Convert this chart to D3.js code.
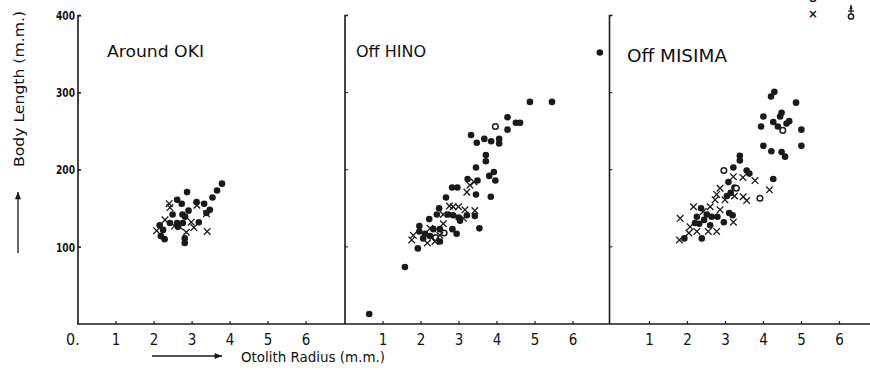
<!DOCTYPE html>
<html>
<head>
<meta charset="utf-8">
<script src="https://cdn.jsdelivr.net/npm/d3@7"></script>
<style>
  body { margin: 0; background: #fff; }
  svg { display: block; }
  text { fill: #111; }
</style>
</head>
<body>
<svg id="chart" width="870" height="370"></svg>
<script>
// otolith radius (mm), body length (mm)
const panelTitles = ["Around OKI", "Off HINO", "Off MISIMA"];
const xTicks = [1, 2, 3, 4, 5, 6];
const yTicks = [100, 200, 300, 400];

const okiDots = [
  [2.88, 171], [3.80, 182], [3.67, 173], [3.55, 164], [2.62, 161], [2.74, 156],
  [3.13, 158], [3.33, 156], [3.48, 148], [3.39, 144], [2.92, 147], [2.50, 142],
  [2.76, 142], [2.83, 139], [2.43, 131], [2.62, 131], [2.77, 131], [2.16, 128],
  [3.19, 132], [2.64, 126], [2.25, 122], [2.19, 114], [2.29, 110], [2.82, 111],
  [2.82, 105]
];
const okiCrosses = [
  [2.41, 156], [2.43, 151], [2.30, 135], [2.08, 121], [2.55, 127], [2.69, 126],
  [2.99, 132], [3.06, 125], [3.39, 143], [3.41, 120], [2.86, 119], [3.14, 154]
];

const hinoDots = [
  [4.88, 288], [5.46, 288], [4.29, 268], [4.51, 261], [4.62, 261], [4.29, 252],
  [3.33, 245], [3.48, 235], [3.68, 240], [3.86, 237], [4.07, 240], [4.07, 234],
  [3.72, 219], [3.72, 211], [3.46, 203], [3.93, 197], [3.81, 192], [3.97, 186],
  [3.24, 188], [3.50, 186], [2.83, 177], [2.97, 177], [3.46, 168], [3.85, 165],
  [2.67, 164], [2.49, 150], [2.43, 142], [2.73, 142], [2.86, 141], [3.00, 138],
  [3.22, 141], [3.43, 140], [3.04, 134], [2.84, 123], [2.95, 117], [3.55, 124],
  [2.23, 136], [1.97, 127], [1.97, 120], [2.12, 117], [2.34, 123], [2.51, 123],
  [2.25, 114], [2.07, 111], [2.51, 107], [1.93, 98], [1.59, 74], [0.65, 13],
  [6.72, 352]
];
const hinoOpen = [[3.97, 256], [2.40, 112], [2.62, 118]];
const hinoCrosses = [
  [1.77, 109], [1.81, 115], [2.18, 105], [2.38, 107], [2.51, 115], [2.25, 124],
  [2.60, 130], [2.76, 153], [3.00, 152], [3.17, 148], [3.22, 171], [3.30, 180],
  [3.41, 184], [3.43, 147], [3.13, 137], [2.86, 152], [2.60, 142]
];

const misimaDots = [
  [4.30, 301], [4.21, 295], [4.87, 287], [4.01, 269], [4.49, 274], [4.45, 269],
  [4.27, 262], [4.69, 263], [4.62, 260], [4.39, 256], [3.95, 256], [5.01, 252],
  [4.01, 231], [4.22, 224], [4.49, 223], [4.58, 217], [5.01, 231], [3.39, 218],
  [3.39, 212], [4.27, 188], [3.22, 203], [3.57, 199], [3.64, 195], [3.25, 177],
  [3.09, 184], [3.15, 170], [3.05, 166], [2.37, 150], [2.52, 142], [2.65, 139],
  [2.26, 139], [2.21, 131], [2.32, 130], [2.97, 132], [3.11, 144], [3.20, 141],
  [2.45, 135], [2.61, 128], [2.39, 111], [1.93, 111], [2.80, 139]
];
const misimaOpen = [[4.52, 251], [3.92, 163], [2.97, 199], [3.30, 176]];
const misimaCrosses = [
  [1.82, 137], [1.80, 109], [2.17, 152], [2.08, 126], [2.26, 120], [2.56, 120],
  [2.61, 152], [2.74, 161], [2.78, 168], [2.87, 176], [3.00, 161], [3.22, 191],
  [3.25, 166], [3.48, 165], [3.57, 160], [3.79, 186], [4.17, 174], [3.22, 132],
  [2.78, 120], [2.87, 148], [2.43, 146], [3.47, 190], [2.05, 118]
];

const panels = [
  { title: panelTitles[0], dots: okiDots, open: [], crosses: okiCrosses },
  { title: panelTitles[1], dots: hinoDots, open: hinoOpen, crosses: hinoCrosses },
  { title: panelTitles[2], dots: misimaDots, open: misimaOpen, crosses: misimaCrosses }
];

const svg = d3.select("#chart");
const font = "'DejaVu Sans Condensed', 'DejaVu Sans', sans-serif";
const ink = "#1a1a1a";

const y = d3.scaleLinear().domain([0, 400]).range([324, 15.5]);
const unit = 38;
const panelX0 = [77.6, 344.5, 611];
const panelLeft = [78, 345, 609.5];
const titleSpots = [[107, 57, 15.5, 97], [356, 57, 16, 70], [627, 62, 18.5, 100]];

// shared baseline
svg.append("line")
  .attr("x1", 77).attr("x2", 870).attr("y1", y(0)).attr("y2", y(0))
  .attr("stroke", ink).attr("stroke-width", 1.6);

panels.forEach((p, i) => {
  const x = d3.scaleLinear().domain([0, 7]).range([panelX0[i], panelX0[i] + 7 * unit]);
  const g = svg.append("g");

  // left border of the panel, with a bracket at the top
  const left = panelLeft[i];
  g.append("path")
    .attr("d", `M${left + 3},${y(400)}H${left}V${y(0)}`)
    .attr("fill", "none").attr("stroke", ink).attr("stroke-width", 1.6);
  g.selectAll(".ytk").data(yTicks.slice(0, 3)).join("line")
    .attr("x1", left).attr("x2", left + 3)
    .attr("y1", d => y(d)).attr("y2", d => y(d))
    .attr("stroke", ink).attr("stroke-width", 1);

  // x axis ticks and numbers
  const xAxis = g.append("g")
    .attr("transform", `translate(0,${y(0)})`)
    .call(d3.axisBottom(x).tickValues(xTicks).tickFormat(d3.format("d"))
      .tickSize(-3).tickPadding(10));
  xAxis.select(".domain").remove();
  xAxis.selectAll("line").attr("stroke", ink).attr("stroke-width", 1.2);
  xAxis.selectAll("text").attr("font-family", font).attr("font-size", 15).attr("fill", ink);

  g.append("text")
    .attr("x", titleSpots[i][0]).attr("y", titleSpots[i][1])
    .attr("font-family", font).attr("font-size", titleSpots[i][2])
    .attr("textLength", titleSpots[i][3]).attr("lengthAdjust", "spacingAndGlyphs")
    .text(p.title);

  g.selectAll(".dot").data(p.dots).join("circle")
    .attr("cx", d => x(d[0])).attr("cy", d => y(d[1]))
    .attr("r", 3.3).attr("fill", ink);

  g.selectAll(".open").data(p.open).join("circle")
    .attr("cx", d => x(d[0])).attr("cy", d => y(d[1]))
    .attr("r", 2.8).attr("fill", "#fff").attr("stroke", ink).attr("stroke-width", 1.5);

  g.selectAll(".cross").data(p.crosses).join("path")
    .attr("d", d => {
      const cx = x(d[0]), cy = y(d[1]), s = 3.3;
      return `M${cx - s},${cy - s}L${cx + s},${cy + s}M${cx + s},${cy - s}L${cx - s},${cy + s}`;
    })
    .attr("stroke", ink).attr("stroke-width", 1.3).attr("fill", "none");
});

// y axis numbers on the first panel
const yAxis = svg.append("g")
  .attr("transform", `translate(${panelLeft[0]},0)`)
  .call(d3.axisLeft(y).tickValues(yTicks).tickSize(-3).tickPadding(3));
yAxis.select(".domain").remove();
yAxis.selectAll("line").attr("stroke", ink).attr("stroke-width", 1);
yAxis.selectAll("text")
  .attr("font-family", font).attr("font-size", 13).attr("font-weight", "bold")
  .attr("fill", ink).attr("textLength", 19).attr("lengthAdjust", "spacingAndGlyphs");

svg.append("text")
  .attr("x", 66).attr("y", 345)
  .attr("font-family", font).attr("font-size", 16)
  .text("0.");

// axis titles with their arrows
const arrow = (x1, y1, x2, y2, L = 8) => {
  svg.append("line").attr("x1", x1).attr("y1", y1).attr("x2", x2).attr("y2", y2)
    .attr("stroke", ink).attr("stroke-width", 1.3);
  const a = Math.atan2(y2 - y1, x2 - x1), w = 0.4;
  svg.append("path")
    .attr("d", `M${x2},${y2}L${x2 - L * Math.cos(a - w)},${y2 - L * Math.sin(a - w)}` +
      `L${x2 - L * Math.cos(a + w)},${y2 - L * Math.sin(a + w)}Z`)
    .attr("fill", ink);
};

arrow(18, 253, 18, 192);
svg.append("text")
  .attr("transform", "translate(24,167) rotate(-90)")
  .attr("font-family", font).attr("font-size", 14)
  .attr("textLength", 156).attr("lengthAdjust", "spacingAndGlyphs")
  .text("Body Length (m.m.)");

arrow(152, 356, 222, 356);
svg.append("text")
  .attr("x", 241).attr("y", 362)
  .attr("font-family", font).attr("font-size", 14)
  .attr("textLength", 144).attr("lengthAdjust", "spacingAndGlyphs")
  .text("Otolith Radius (m.m.)");

// sex legend, partly cut by the top edge
svg.append("circle").attr("cx", 813).attr("cy", -1.5).attr("r", 3)
  .attr("fill", "none").attr("stroke", ink).attr("stroke-width", 1.5);
svg.append("text").attr("x", 813).attr("y", 18).attr("text-anchor", "middle")
  .attr("font-family", font).attr("font-size", 13).attr("font-weight", "bold").text("×");
svg.append("circle").attr("cx", 851).attr("cy", 16.5).attr("r", 2.6)
  .attr("fill", "none").attr("stroke", ink).attr("stroke-width", 1.5);
arrow(851, 13.5, 851, 5, 4.5);
svg.append("line").attr("x1", 848).attr("x2", 854).attr("y1", 11).attr("y2", 11)
  .attr("stroke", ink).attr("stroke-width", 1.2);
</script>
</body>
</html>
